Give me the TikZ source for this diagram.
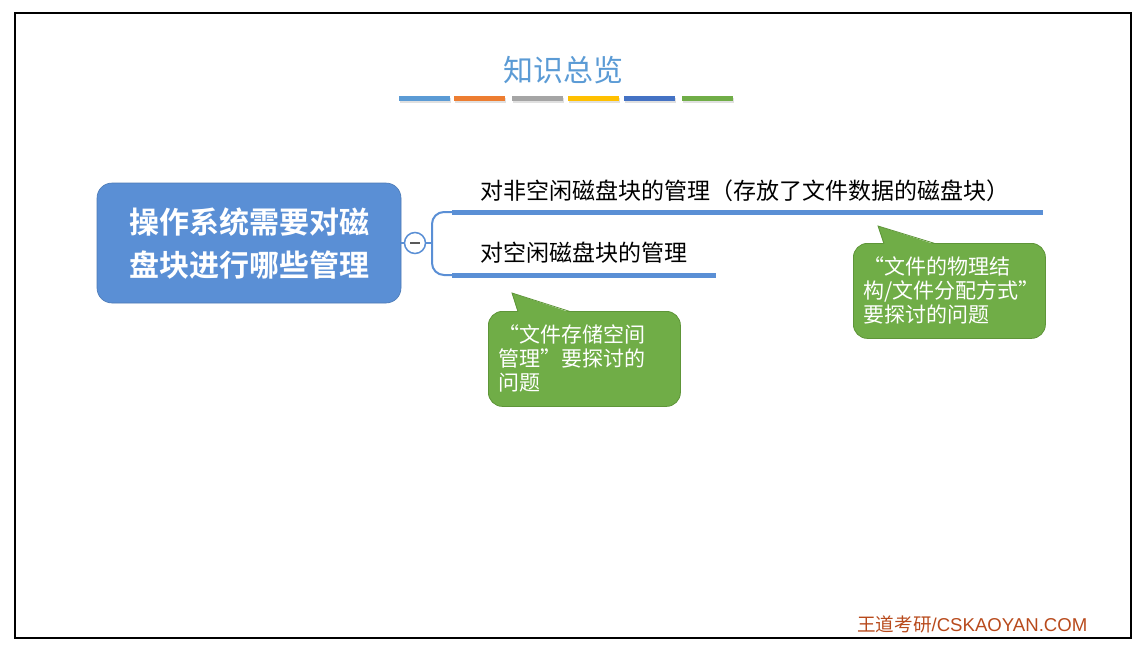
\documentclass[tikz,border=0pt]{standalone}
\usepackage{fontspec}
\setmainfont{Liberation Sans}
\newfontfamily\cjk[BoldFont={Noto Sans CJK SC Bold}]{Noto Sans CJK SC}
\usetikzlibrary{positioning}
\definecolor{titleblue}{HTML}{5B9BD5}
\definecolor{barorange}{HTML}{ED7D31}
\definecolor{bargray}{HTML}{A5A5A5}
\definecolor{baryellow}{HTML}{FFC000}
\definecolor{bardblue}{HTML}{4472C4}
\definecolor{bargreen}{HTML}{70AD47}
\definecolor{mapblue}{HTML}{5A8FD5}
\definecolor{notegreen}{HTML}{70AD47}
\definecolor{noteedge}{HTML}{5E9538}
\definecolor{footred}{HTML}{B84A1C}

\tikzset{
  rootbox/.style={fill=mapblue, draw=mapblue!85!black, line width=0.6pt, rounded corners=15pt,
    minimum width=304pt, minimum height=120pt, text=white, align=center,
    font=\cjk\bfseries\fontsize{30}{43}\selectfont},
  branchtext/.style={anchor=base west, inner sep=0pt, font=\cjk\fontsize{23}{26}\selectfont},
  branchline/.style={draw=mapblue, line width=5pt},
  bracket/.style={draw=mapblue, line width=2pt, rounded corners=12pt},
  note/.style={fill=notegreen, draw=noteedge, line width=0.8pt, rounded corners=14pt,
    anchor=north west, text=white, align=left, inner xsep=10pt, text width=172pt,
    minimum width=192pt, minimum height=95pt, font=\cjk\fontsize{21}{24}\selectfont},
  notetip/.style={fill=notegreen}
}

\begin{document}
\begin{tikzpicture}[x=1pt, y=-1pt]
  \useasboundingbox (0,0) rectangle (1145,648);
  \draw[line width=2pt] (15,13) rectangle (1131,638);

  % title and colour bars
  \node[text=titleblue, font=\cjk\fontsize{30}{32}\selectfont] (title) at (563,70) {知识总览};
  \foreach \x/\c in {399/titleblue, 454/barorange, 512/bargray, 568/baryellow, 624/bardblue, 682/bargreen}{
    \fill[black!12] (\x+1,98) rectangle +(51,5);
    \fill[\c] (\x,96) rectangle +(51,5);
  }

  % root and branches
  \node[rootbox] (root) at (249,243) {操作系统需要对磁\\盘块进行哪些管理};
  \coordinate (b1s) at (452,212);
  \coordinate (b1e) at (1043,212);
  \coordinate (b2s) at (452,275);
  \coordinate (b2e) at (716,275);
  \coordinate (fork) at (432,243);
  \draw[bracket] (b1s) -- (b1s -| fork) -- (b2s -| fork) -- (b2s);
  \draw[draw=mapblue, line width=2pt] (root.east) -- (fork);
  \node[circle, draw=mapblue, fill=white, line width=1.5pt, minimum size=21pt, inner sep=0pt] (toggle) at (415,243) {};
  \draw[line width=1.8pt, black!65] ([xshift=-5pt]toggle.center) -- ([xshift=5pt]toggle.center);
  \draw[branchline] (b1s) -- (b1e);
  \draw[branchline] (b2s) -- (b2e);
  \node[branchtext] (used) at (480,199) {对非空闲磁盘块的管理（存放了文件数据的磁盘块）};
  \node[branchtext] (free) at (480,261) {对空闲磁盘块的管理};

  % callouts
  \node[note] (note1) at (488,311) {“文件存储空间\\管理”要探讨的\\问题};
  \coordinate (tip1) at (512,293);
  \fill[notetip] (tip1) -- (518,313) -- (572,313) -- cycle;
  \draw[noteedge, line width=0.8pt] (518,311.5) -- (tip1) -- (570,311.5);

  \node[note] (note2) at (853,243) {“文件的物理结\\构/文件分配方式”\\要探讨的问题};
  \coordinate (tip2) at (878,226);
  \fill[notetip] (tip2) -- (884,245) -- (937,245) -- cycle;
  \draw[noteedge, line width=0.8pt] (884,243.5) -- (tip2) -- (935,243.5);

  \node[anchor=base west, inner sep=0pt, text=footred, font=\fontsize{18.6}{20}\selectfont] (footer) at (857,631) {{\cjk 王道考研}/CSKAOYAN.COM};
\end{tikzpicture}
\end{document}
